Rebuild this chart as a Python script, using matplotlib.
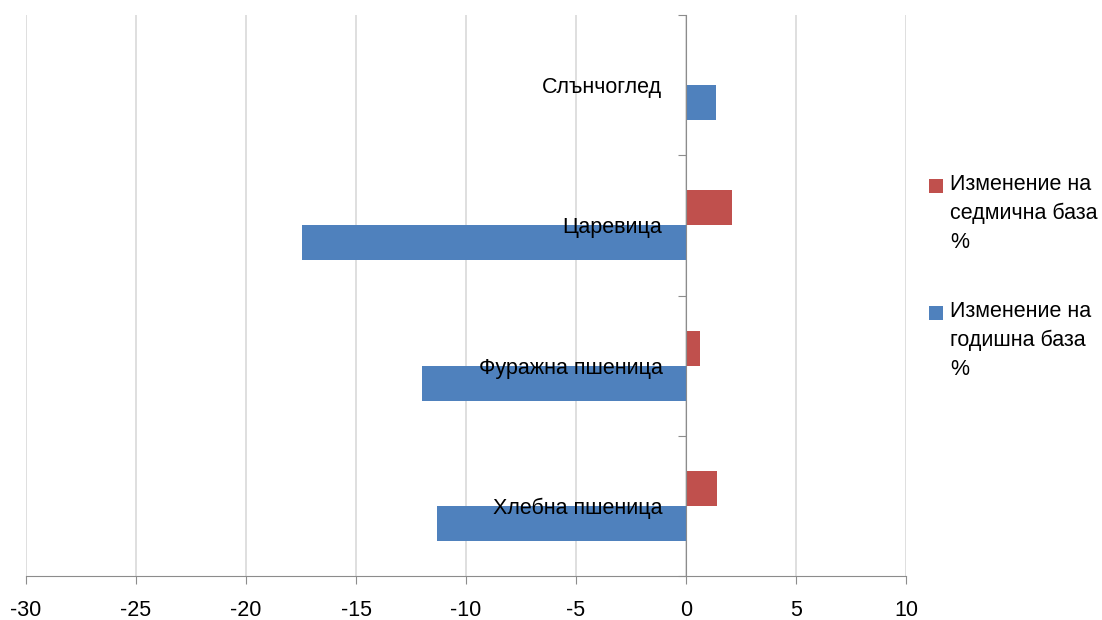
import matplotlib.pyplot as plt
from matplotlib.patches import Rectangle

# данни
categories = ["Хлебна пшеница", "Фуражна пшеница", "Царевица", "Слънчоглед"]
weekly = [1.4, 0.64, 2.1, 0.0]
yearly = [-11.3, -12.0, -17.45, 1.36]
series_names = ["Изменение на\nседмична база\n%", "Изменение на\nгодишна база\n%"]
x_ticks = [-30, -25, -20, -15, -10, -5, 0, 5, 10]

plt.rcParams['font.family'] = ['Liberation Sans', 'DejaVu Sans']
plt.rcParams['font.size'] = 15.5

c_red = '#C0504D'
c_blue = '#4F81BD'
gray = '#8c8c8c'

fig = plt.figure(figsize=(11.02, 6.2), dpi=100)
ax = fig.add_axes([26 / 1102, 1 - 576 / 620, 880 / 1102, 561 / 620])

pos = list(range(len(categories)))
h = 0.25
ax.barh([p + h / 2 for p in pos], weekly, height=h, color=c_red, zorder=3)
ax.barh([p - h / 2 for p in pos], yearly, height=h, color=c_blue, zorder=3)

ax.set_xlim(-30, 10)
ax.set_ylim(-0.5, len(categories) - 0.5)
ax.set_xticks(x_ticks)
ax.set_xticklabels([str(v) for v in x_ticks])
ax.xaxis.grid(True, color='#d9d9d9', linewidth=1.2, zorder=0)

ax.spines['top'].set_visible(False)
ax.spines['right'].set_visible(False)
ax.spines['left'].set_position(('data', 0))
ax.spines['left'].set_color(gray)
ax.spines['bottom'].set_color(gray)
ax.spines['left'].set_zorder(4)

# граници на категориите (основни) и подписи (второстепенни)
ax.set_yticks([p - 0.5 for p in pos] + [len(categories) - 0.5])
ax.set_yticklabels([])
ax.set_yticks(pos, minor=True)
ax.set_yticklabels(categories, minor=True, va='center_baseline')
ax.tick_params(axis='y', which='major', direction='out', length=6, color=gray)
ax.tick_params(axis='y', which='minor', length=0, pad=17)
ax.tick_params(axis='x', direction='out', length=6, color=gray, pad=11)
ax.yaxis.set_zorder(5)

# легенда
entries = [(c_red, series_names[0], 186), (c_blue, series_names[1], 313)]
for col, name, ypx in entries:
    fig.patches.append(Rectangle((929 / 1102, 1 - (ypx + 7) / 620), 14 / 1102, 14 / 620,
                                 transform=fig.transFigure, facecolor=col, edgecolor='none'))
    fig.text(950 / 1102, 1 - (ypx - 12) / 620, name, ha='left', va='top', linespacing=1.5)

fig.savefig('out.png', dpi=100)
